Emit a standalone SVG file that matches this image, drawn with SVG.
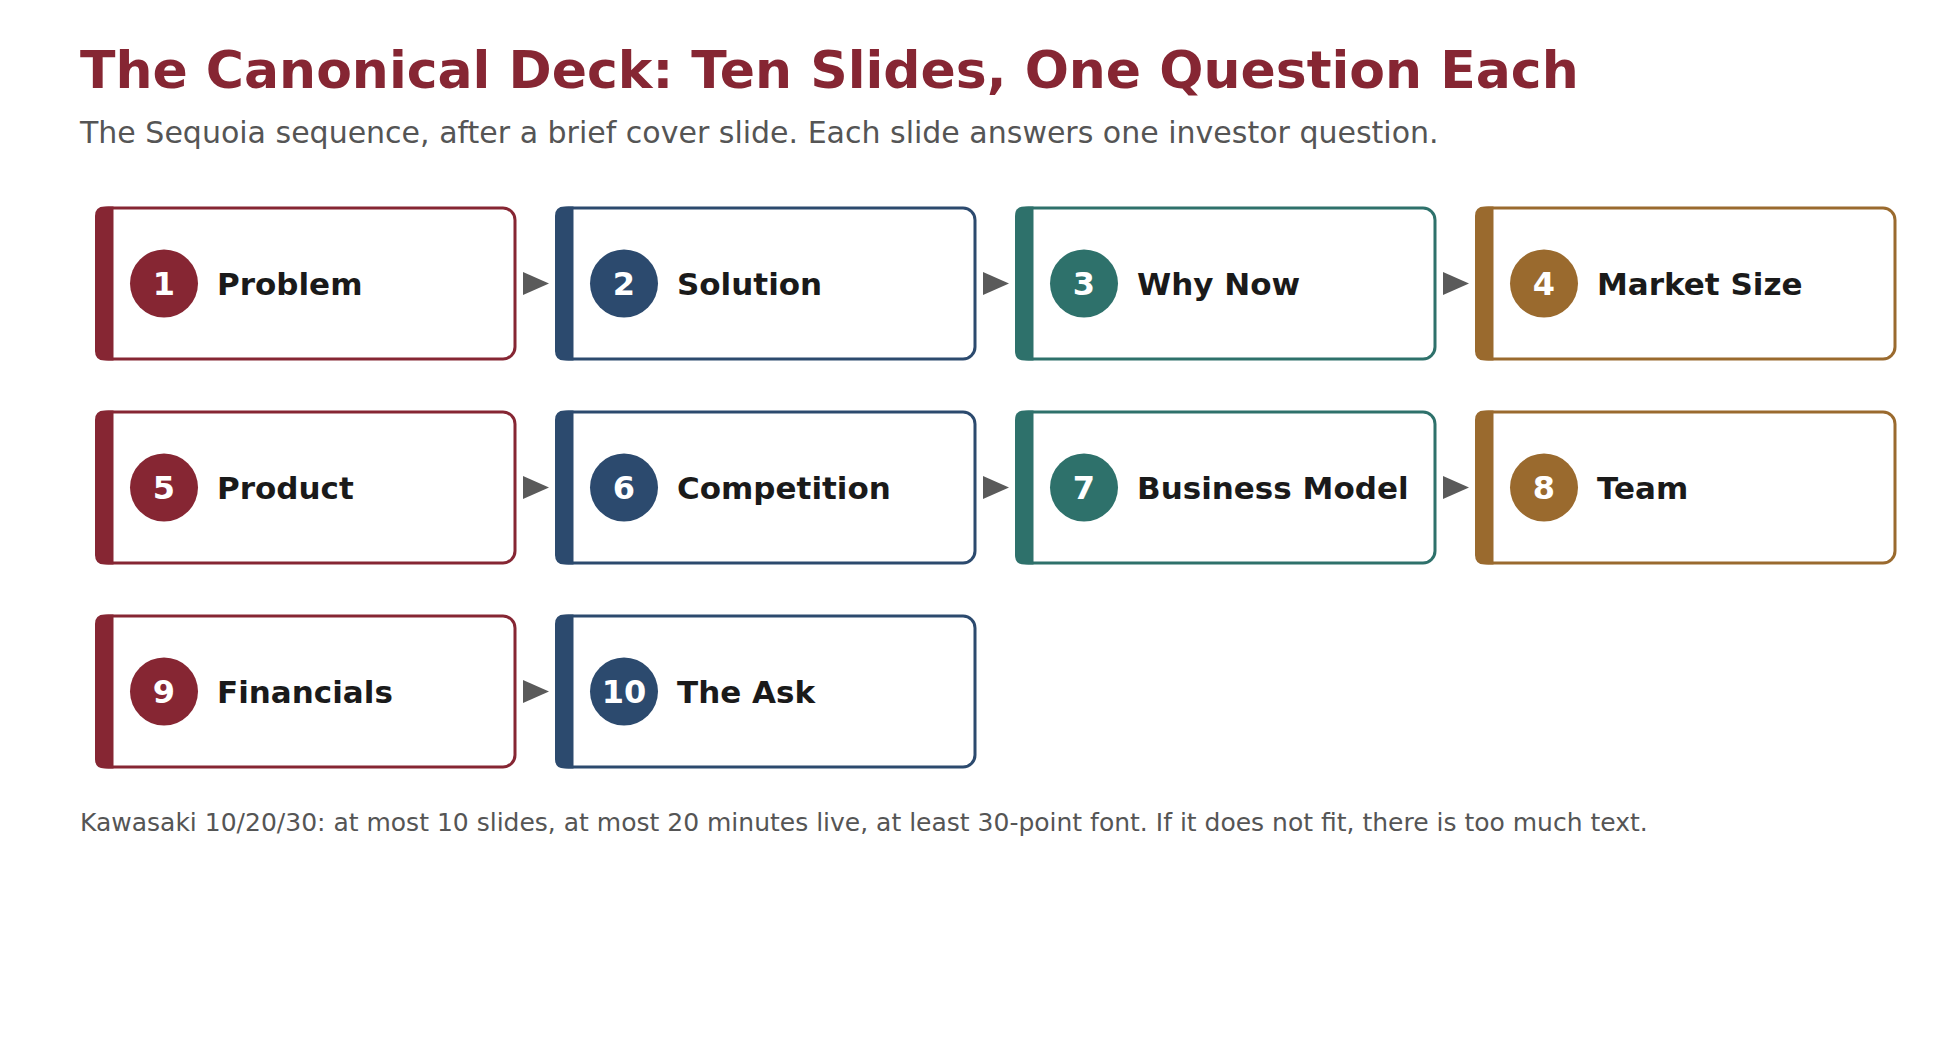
<svg xmlns="http://www.w3.org/2000/svg" width="1960" height="1040" viewBox="0 0 1960 1040">
<style>
.title{font-family:"DejaVu Sans",sans-serif;font-weight:bold;font-size:52px;fill:#862633}
.sub{font-family:"DejaVu Sans",sans-serif;font-size:30px;fill:#555555}
.foot{font-family:"DejaVu Sans",sans-serif;font-size:25px;fill:#555555}
.box{fill:#ffffff;stroke-width:3}
.num{font-family:"DejaVu Sans",sans-serif;font-weight:bold;font-size:32px;fill:#ffffff;text-anchor:middle}
.lbl{font-family:"DejaVu Sans",sans-serif;font-weight:bold;font-size:31px;fill:#1a1a1a}
.s1{stroke:#862633}.f1{fill:#862633}
.s2{stroke:#2c4a6e}.f2{fill:#2c4a6e}
.s3{stroke:#2e716b}.f3{fill:#2e716b}
.s4{stroke:#9a6a2e}.f4{fill:#9a6a2e}
.arr{fill:#5a5a5a}
</style>
<defs>
<path id="bar" d="M17,-1.5 L17,152.5 L8,152.5 Q-1.5,152.5 -1.5,143 L-1.5,8 Q-1.5,-1.5 8,-1.5 Z"/>
</defs>
<rect width="1960" height="1040" fill="#ffffff"/>
<text class="title" x="80" y="88">The Canonical Deck: Ten Slides, One Question Each</text>
<text class="sub" x="80" y="143">The Sequoia sequence, after a brief cover slide. Each slide answers one investor question.</text>

<g id="node1" transform="translate(96.5,208)"><rect class="box s1" width="418.5" height="151" rx="12"/><use href="#bar" class="f1"/><circle class="f1" cx="67.5" cy="75.5" r="34"/><text class="num" x="67.5" y="87">1</text><text class="lbl" x="120.5" y="87">Problem</text></g>
<g id="node2" transform="translate(556.5,208)"><rect class="box s2" width="418.5" height="151" rx="12"/><use href="#bar" class="f2"/><circle class="f2" cx="67.5" cy="75.5" r="34"/><text class="num" x="67.5" y="87">2</text><text class="lbl" x="120.5" y="87">Solution</text></g>
<g id="node3" transform="translate(1016.5,208)"><rect class="box s3" width="418.5" height="151" rx="12"/><use href="#bar" class="f3"/><circle class="f3" cx="67.5" cy="75.5" r="34"/><text class="num" x="67.5" y="87">3</text><text class="lbl" x="120.5" y="87">Why Now</text></g>
<g id="node4" transform="translate(1476.5,208)"><rect class="box s4" width="418.5" height="151" rx="12"/><use href="#bar" class="f4"/><circle class="f4" cx="67.5" cy="75.5" r="34"/><text class="num" x="67.5" y="87">4</text><text class="lbl" x="120.5" y="87">Market Size</text></g>

<g id="node5" transform="translate(96.5,412)"><rect class="box s1" width="418.5" height="151" rx="12"/><use href="#bar" class="f1"/><circle class="f1" cx="67.5" cy="75.5" r="34"/><text class="num" x="67.5" y="87">5</text><text class="lbl" x="120.5" y="87">Product</text></g>
<g id="node6" transform="translate(556.5,412)"><rect class="box s2" width="418.5" height="151" rx="12"/><use href="#bar" class="f2"/><circle class="f2" cx="67.5" cy="75.5" r="34"/><text class="num" x="67.5" y="87">6</text><text class="lbl" x="120.5" y="87">Competition</text></g>
<g id="node7" transform="translate(1016.5,412)"><rect class="box s3" width="418.5" height="151" rx="12"/><use href="#bar" class="f3"/><circle class="f3" cx="67.5" cy="75.5" r="34"/><text class="num" x="67.5" y="87">7</text><text class="lbl" x="120.5" y="87">Business Model</text></g>
<g id="node8" transform="translate(1476.5,412)"><rect class="box s4" width="418.5" height="151" rx="12"/><use href="#bar" class="f4"/><circle class="f4" cx="67.5" cy="75.5" r="34"/><text class="num" x="67.5" y="87">8</text><text class="lbl" x="120.5" y="87">Team</text></g>

<g id="node9" transform="translate(96.5,616)"><rect class="box s1" width="418.5" height="151" rx="12"/><use href="#bar" class="f1"/><circle class="f1" cx="67.5" cy="75.5" r="34"/><text class="num" x="67.5" y="87">9</text><text class="lbl" x="120.5" y="87">Financials</text></g>
<g id="node10" transform="translate(556.5,616)"><rect class="box s2" width="418.5" height="151" rx="12"/><use href="#bar" class="f2"/><circle class="f2" cx="67.5" cy="75.5" r="34"/><text class="num" x="67.5" y="87">10</text><text class="lbl" x="120.5" y="87">The Ask</text></g>

<g id="connectors">
<polygon class="arr" points="523,272 549,283.5 523,295"/>
<polygon class="arr" points="983,272 1009,283.5 983,295"/>
<polygon class="arr" points="1443,272 1469,283.5 1443,295"/>
<polygon class="arr" points="523,476 549,487.5 523,499"/>
<polygon class="arr" points="983,476 1009,487.5 983,499"/>
<polygon class="arr" points="1443,476 1469,487.5 1443,499"/>
<polygon class="arr" points="523,680 549,691.5 523,703"/>
</g>

<text class="foot" x="80" y="831">Kawasaki 10/20/30: at most 10 slides, at most 20 minutes live, at least 30-point font. If it does not fit, there is too much text.</text>
</svg>
